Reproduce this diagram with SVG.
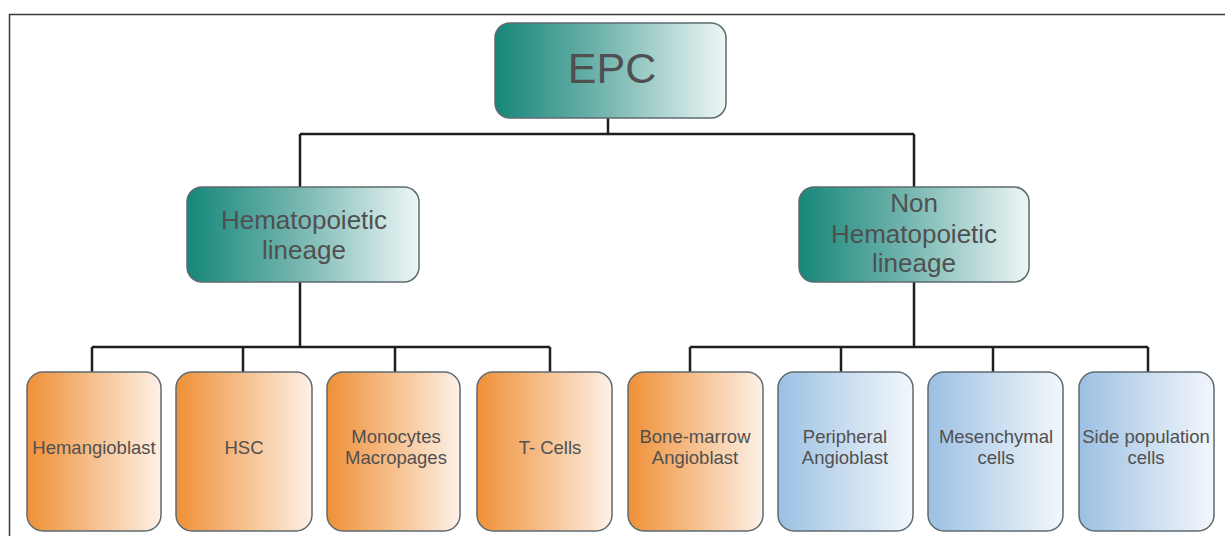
<svg xmlns="http://www.w3.org/2000/svg" width="1225" height="536" viewBox="0 0 1225 536">
<defs>
<linearGradient id="gTeal" x1="0" y1="0" x2="1" y2="0">
<stop offset="0" stop-color="#16877a"/>
<stop offset="0.45" stop-color="#6fb3ac"/>
<stop offset="1" stop-color="#eef6f6"/>
</linearGradient>
<linearGradient id="gOrange" x1="0" y1="0" x2="1" y2="0">
<stop offset="0" stop-color="#ef9037"/>
<stop offset="0.5" stop-color="#f6c08e"/>
<stop offset="1" stop-color="#fdf1e7"/>
</linearGradient>
<linearGradient id="gBlue" x1="0" y1="0" x2="1" y2="0">
<stop offset="0" stop-color="#9bc0e3"/>
<stop offset="0.5" stop-color="#c8dcef"/>
<stop offset="1" stop-color="#f3f7fb"/>
</linearGradient>
</defs>
<style>
.frame{fill:none;stroke:#3a3a3a;stroke-width:1.5}
.conn{fill:none;stroke:#1e1e1e;stroke-width:2.5}
.box{stroke:#5d6b70;stroke-width:1.5}
.teal{fill:url(#gTeal)}
.orange{fill:url(#gOrange)}
.blue{fill:url(#gBlue)}
text{font-family:"Liberation Sans",Arial,sans-serif;fill:#505050;text-anchor:middle}
.big{font-size:43px}
.mid{font-size:26px}
.small{font-size:18.5px}
</style>
<rect width="1225" height="536" fill="#ffffff"/>
<path class="frame" d="M9.5,536 V14.5 H1225"/>
<g id="connectors">
<path class="conn" d="M608,118 V134 M300,134 H914 M300,134 V187 M914,134 V187"/>
<path class="conn" d="M300,282 V347 M92,347 H550 M92,347 V372 M243,347 V372 M395,347 V372 M550,347 V372"/>
<path class="conn" d="M914,282 V347 M690,347 H1148 M690,347 V372 M841,347 V372 M993,347 V372 M1148,347 V372"/>
</g>
<g id="epc">
<rect class="box teal" x="495" y="23" width="231" height="95" rx="15"/>
<text class="big" x="612" y="83">EPC</text>
</g>
<g id="hematopoietic">
<rect class="box teal" x="187" y="187" width="232" height="95" rx="15"/>
<text class="mid" x="304" y="229">Hematopoietic</text>
<text class="mid" x="304" y="259">lineage</text>
</g>
<g id="non-hematopoietic">
<rect class="box teal" x="799" y="187" width="230" height="95" rx="15"/>
<text class="mid" x="914" y="212">Non</text>
<text class="mid" x="914" y="243">Hematopoietic</text>
<text class="mid" x="914" y="272">lineage</text>
</g>
<g id="hemangioblast">
<rect class="box orange" x="27" y="372" width="134" height="159" rx="16"/>
<text class="small" x="94" y="454">Hemangioblast</text>
</g>
<g id="hsc">
<rect class="box orange" x="176" y="372" width="136" height="159" rx="16"/>
<text class="small" x="244" y="454">HSC</text>
</g>
<g id="monocytes">
<rect class="box orange" x="327" y="372" width="133" height="159" rx="16"/>
<text class="small" x="396" y="443">Monocytes</text>
<text class="small" x="396" y="464">Macropages</text>
</g>
<g id="t-cells">
<rect class="box orange" x="477" y="372" width="135" height="159" rx="16"/>
<text class="small" x="550" y="454">T- Cells</text>
</g>
<g id="bone-marrow">
<rect class="box orange" x="628" y="372" width="135" height="159" rx="16"/>
<text class="small" x="695" y="443">Bone-marrow</text>
<text class="small" x="695" y="464">Angioblast</text>
</g>
<g id="peripheral">
<rect class="box blue" x="778" y="372" width="135" height="159" rx="16"/>
<text class="small" x="845" y="443">Peripheral</text>
<text class="small" x="845" y="464">Angioblast</text>
</g>
<g id="mesenchymal">
<rect class="box blue" x="928" y="372" width="135" height="159" rx="16"/>
<text class="small" x="996" y="443">Mesenchymal</text>
<text class="small" x="996" y="464">cells</text>
</g>
<g id="side-population">
<rect class="box blue" x="1079" y="372" width="135" height="159" rx="16"/>
<text class="small" x="1146" y="443">Side population</text>
<text class="small" x="1146" y="464">cells</text>
</g>
</svg>
